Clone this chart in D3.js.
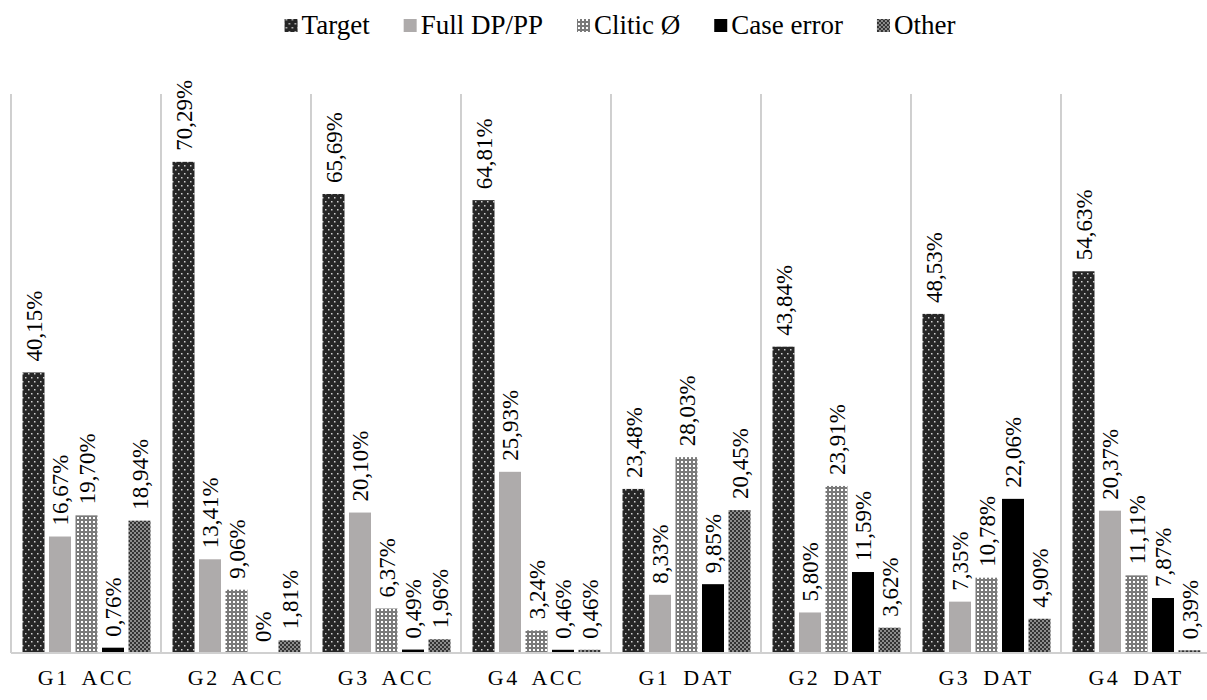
<!DOCTYPE html>
<html>
<head>
<meta charset="utf-8">
<script src="https://cdn.jsdelivr.net/npm/d3@7"></script>
<style>
body{margin:0;background:#fff}
text{font-family:"Liberation Serif","Times New Roman",serif;fill:#000}
</style>
</head>
<body>
<svg id="chart" width="1207" height="700"></svg>
<script>
// chart data
var categories = ["G1 ACC","G2 ACC","G3 ACC","G4 ACC","G1 DAT","G2 DAT","G3 DAT","G4 DAT"];
var seriesNames = ["Target","Full DP/PP","Clitic Ø","Case error","Other"];
var target    = [40.15, 70.29, 65.69, 64.81, 23.48, 43.84, 48.53, 54.63];
var fullDP    = [16.67, 13.41, 20.10, 25.93,  8.33,  5.80,  7.35, 20.37];
var cliticNull= [19.70,  9.06,  6.37,  3.24, 28.03, 23.91, 10.78, 11.11];
var caseError = [ 0.76,  0,     0.49,  0.46,  9.85, 11.59, 22.06,  7.87];
var other     = [18.94,  1.81,  1.96,  0.46, 20.45,  3.62,  4.90,  0.39];
var yMax = 80;

var seriesVals = [target, fullDP, cliticNull, caseError, other];
var fills = ["url(#pTarget)", "#aeabab", "url(#pClitic)", "#000", "url(#pOther)"];
var serif = "'Liberation Serif','Times New Roman',serif";

var svg = d3.select("#chart");
var plotLeft = 11, plotRight = 1211, plotTop = 94, base = 653;

// patterns
var defs = svg.append("defs");
var p1 = defs.append("pattern").attr("id","pTarget").attr("patternUnits","userSpaceOnUse")
	.attr("width",6).attr("height",8);
p1.append("rect").attr("width",6).attr("height",8).attr("fill","#262626");
p1.append("rect").attr("x",1).attr("y",1).attr("width",1.5).attr("height",1.5).attr("fill","#d0d0d0");
p1.append("rect").attr("x",4).attr("y",5).attr("width",1.5).attr("height",1.5).attr("fill","#d0d0d0");

var p2 = defs.append("pattern").attr("id","pClitic").attr("patternUnits","userSpaceOnUse")
	.attr("width",4).attr("height",4);
p2.append("rect").attr("width",4).attr("height",4).attr("fill","#7a7a7a");
p2.append("rect").attr("x",1).attr("y",1).attr("width",2).attr("height",2).attr("fill","#fff");

var p3 = defs.append("pattern").attr("id","pOther").attr("patternUnits","userSpaceOnUse")
	.attr("width",4).attr("height",4);
p3.append("rect").attr("width",4).attr("height",4).attr("fill","#8c8c8c");
p3.append("rect").attr("width",2).attr("height",2).attr("fill","#333");
p3.append("rect").attr("x",2).attr("y",2).attr("width",2).attr("height",2).attr("fill","#333");

var x0 = d3.scaleBand().domain(categories).range([plotLeft,plotRight]);
var x1 = d3.scaleBand().domain(seriesNames).range([11.5,139.5]).paddingInner(0.17);
var y = d3.scaleLinear().domain([0,yMax]).range([base,plotTop]);

// separators
svg.selectAll("line.sep").data(categories).enter().append("line")
	.attr("class","sep")
	.attr("x1",function(d){return x0(d);})
	.attr("x2",function(d){return x0(d);})
	.attr("y1",plotTop).attr("y2",base)
	.attr("stroke","#c4c4c4").attr("stroke-width",1.6);

var rows = [];
categories.forEach(function(c,i){
	seriesNames.forEach(function(s,j){
		rows.push({cat:c, ser:s, idx:j, v:seriesVals[j][i]});
	});
});

var g = svg.append("g");
g.selectAll("rect").data(rows).enter().append("rect")
	.attr("x",function(d){return x0(d.cat)+x1(d.ser);})
	.attr("width",x1.bandwidth())
	.attr("y",function(d){return y(d.v);})
	.attr("height",function(d){return base-y(d.v);})
	.attr("fill",function(d){return fills[d.idx];});

function fmt(v){
	if(v===0) return "0%";
	return v.toFixed(2).replace(".",",")+"%";
}

g.selectAll("text").data(rows).enter().append("text")
	.attr("transform",function(d){
		var cx = x0(d.cat)+x1(d.ser)+x1.bandwidth()/2;
		return "translate("+cx+","+(y(d.v)-11)+") rotate(-90)";
	})
	.attr("dy","0.35em")
	.attr("font-family",serif)
	.style("font-size","23px")
	.text(function(d){return fmt(d.v);});

// baseline
svg.append("line").attr("x1",plotLeft).attr("x2",1207).attr("y1",base).attr("y2",base)
	.attr("stroke","#d0d0d0").attr("stroke-width",2);

// x axis labels
var xAxis = d3.axisBottom(x0).tickSize(0).tickPadding(16);
var ax = svg.append("g").attr("transform","translate(0,"+base+")").call(xAxis);
ax.attr("font-family",serif);
ax.select(".domain").remove();
ax.selectAll("text").style("font-size","22px").style("letter-spacing","2.5px")
	.style("word-spacing","5px")
	.attr("dy","0.71em");

// legend
var leg = svg.append("g");
var lx = 0;
seriesNames.forEach(function(s,j){
	var it = leg.append("g").attr("transform","translate("+lx+",0)");
	it.append("rect").attr("x",0).attr("y",-15).attr("width",13).attr("height",13)
		.attr("fill",fills[j]);
	var t = it.append("text").attr("x",17).attr("y",0).attr("font-family",serif)
		.style("font-size","27px").text(s);
	lx += 17 + t.node().getComputedTextLength() + 34;
});
lx -= 34;
leg.attr("transform","translate("+(620-lx/2)+",34)");
</script>
</body>
</html>
